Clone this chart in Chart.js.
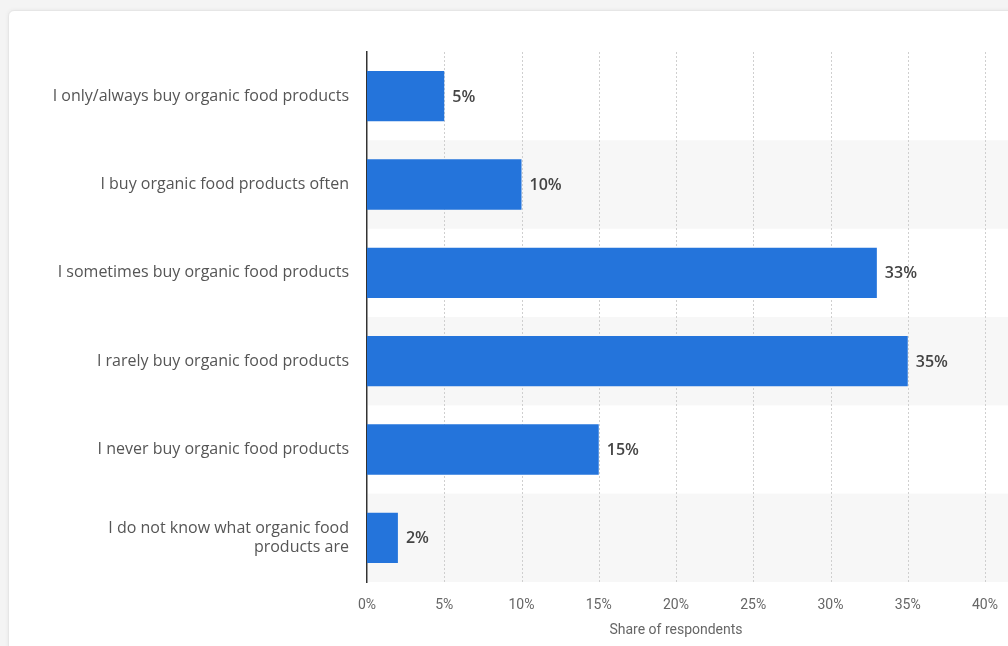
<!DOCTYPE html>
<html>
<head>
<meta charset="utf-8">
<script src="https://cdn.jsdelivr.net/npm/chart.js@4"></script>
<style>
html,body{margin:0;padding:0;width:1008px;height:646px;overflow:hidden;background:#f4f4f4;}
#card{position:absolute;left:8px;top:10px;width:1010px;height:640px;background:#fff;border:1px solid #e6e6e6;border-radius:6px;box-shadow:0 0 4px rgba(0,0,0,0.06);}
#wrap{position:absolute;left:0;top:0;width:1008px;height:646px;}
</style>
</head>
<body>
<div id="card"></div>
<div id="wrap"><canvas id="c" width="1008" height="646"></canvas></div>
<script>
const categories = [
  "I only/always buy organic food products",
  "I buy organic food products often",
  "I sometimes buy organic food products",
  "I rarely buy organic food products",
  "I never buy organic food products",
  ["I do not know what organic food", "products are"]
];
const shares = [5, 10, 33, 35, 15, 2];
const tickValues = [0, 5, 10, 15, 20, 25, 30, 35, 40];
const axisTitle = "Share of respondents";

const bandPlugin = {
  id: 'bands',
  beforeDatasetsDraw(chart) {
    const {ctx, chartArea, scales} = chart;
    const y = scales.y;
    ctx.save();
    ctx.fillStyle = '#f7f7f7';
    categories.forEach((c, i) => {
      if (i % 2 === 1) {
        const top = y.getPixelForValue(i - 0.5);
        const bot = y.getPixelForValue(i + 0.5);
        ctx.fillRect(chartArea.left + 1, top, chart.width - chartArea.left, bot - top);
      }
    });
    const x = scales.x;
    ctx.strokeStyle = '#cfcfcf';
    ctx.lineWidth = 1;
    ctx.setLineDash([2, 2]);
    tickValues.forEach(v => {
      if (v === 0) return;
      const px = Math.round(x.getPixelForValue(v)) + 0.5;
      ctx.beginPath();
      ctx.moveTo(px, chartArea.top);
      ctx.lineTo(px, chartArea.bottom);
      ctx.stroke();
    });
    ctx.restore();
  }
};

const labelPlugin = {
  id: 'vlabels',
  afterDatasetsDraw(chart) {
    const {ctx} = chart;
    const meta = chart.getDatasetMeta(0);
    ctx.save();
    ctx.font = '600 16px "Open Sans", sans-serif';
    ctx.fillStyle = '#444';
    ctx.textAlign = 'left';
    ctx.textBaseline = 'middle';
    meta.data.forEach((bar, i) => {
      ctx.fillText(shares[i] + '%', bar.x + 8, bar.y + 1);
    });
    ctx.restore();
  }
};

new Chart(document.getElementById('c'), {
  type: 'bar',
  data: {
    labels: categories,
    datasets: [{
      data: shares,
      backgroundColor: '#2474db',
      borderWidth: 0,
      categoryPercentage: 1,
      barPercentage: 0.57
    }]
  },
  plugins: [bandPlugin, labelPlugin],
  options: {
    indexAxis: 'y',
    responsive: false,
    animation: false,
    devicePixelRatio: 1,
    layout: {autoPadding: false, padding: {top: 52, right: 23, left: 0, bottom: 0}},
    plugins: {legend: {display: false}, tooltip: {enabled: false}},
    scales: {
      x: {
        min: 0, max: 40,
        afterFit(s) { s.height = 64; s.paddingLeft = 0; s.paddingRight = 0; },
        afterBuildTicks(s) { s.ticks = tickValues.map(v => ({value: v})); },
        grid: {display: false, drawTicks: false},
        border: {display: false},
        ticks: {
          padding: 15,
          color: '#666',
          font: {family: 'Roboto', size: 14},
          callback: v => v + '%'
        },
        title: {
          display: true,
          text: axisTitle,
          color: '#666',
          font: {family: 'Roboto', size: 14},
          padding: {top: 0, bottom: 7}
        }
      },
      y: {
        afterFit(s) { s.width = 367; },
        grid: {display: false, drawTicks: false},
        border: {display: true, color: '#333', width: 1.5},
        ticks: {
          padding: 18,
          color: '#555',
          font: {family: '"Open Sans"', size: 16},
          crossAlign: 'near'
        }
      }
    }
  }
});
</script>
</body>
</html>
